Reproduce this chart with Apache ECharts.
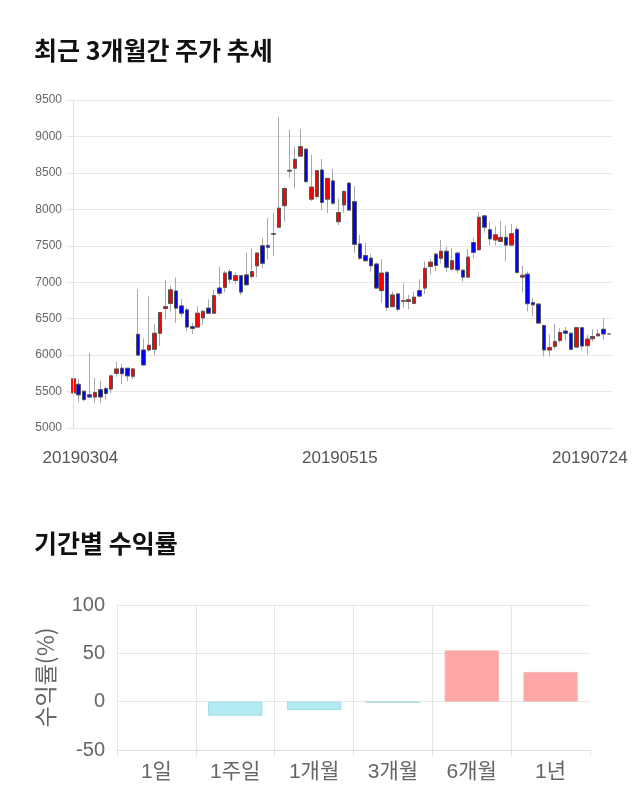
<!DOCTYPE html>
<html>
<head>
<meta charset="utf-8">
<script src="https://cdn.jsdelivr.net/npm/echarts@6/dist/echarts.min.js"></script>
<style>
html,body{margin:0;padding:0;background:#fff;}
#chart{width:640px;height:810px;}
</style>
</head>
<body>
<div id="chart"></div>
<script>
// ---- candlestick data (daily) ----
const dates = [
'20190304','20190305','20190306','20190307','20190308','20190311','20190312','20190313','20190314','20190315',
'20190318','20190319','20190320','20190321','20190322','20190325','20190326','20190327','20190328','20190329',
'20190401','20190402','20190403','20190404','20190405','20190408','20190409','20190410','20190411','20190412',
'20190415','20190416','20190417','20190418','20190419','20190422','20190423','20190424','20190425','20190426',
'20190429','20190430','20190502','20190503','20190507','20190508','20190509','20190510','20190513','20190514',
'20190515','20190516','20190517','20190520','20190521','20190522','20190523','20190524','20190527','20190528',
'20190529','20190530','20190531','20190603','20190604','20190605','20190607','20190610','20190611','20190612',
'20190613','20190614','20190617','20190618','20190619','20190620','20190621','20190624','20190625','20190626',
'20190627','20190628','20190701','20190702','20190703','20190704','20190705','20190708','20190709','20190710',
'20190711','20190712','20190715','20190716','20190717','20190718','20190719','20190722','20190723','20190724'
];
const opens = [
5480,5600,5505,5455,5425,5525,5540,5535,5750,5820,
5820,5710,6285,6070,6070,6080,6300,6640,6710,6880,
6675,6620,6390,6385,6510,6645,6575,6920,6930,7145,
7025,7090,7100,7080,7225,7500,7505,7665,7755,8050,
8535,8565,8730,8825,8140,8175,8540,8140,8390,7830,
8060,8360,8105,7525,7365,7330,7250,6885,7135,6665,
6840,6740,6735,6710,6885,6920,7215,7385,7330,7425,
7180,7400,7165,7070,7545,7445,7910,7720,7580,7560,
7615,7510,7725,7070,7110,6720,6700,6405,6070,6120,
6200,6330,6300,6110,6375,6130,6225,6265,6355,6290
];
const closes = [
5675,5455,5390,5425,5485,5425,5475,5715,5810,5745,
5715,5810,6000,5865,6135,6300,6585,6665,6895,6645,
6575,6385,6365,6575,6600,6575,6815,6850,7125,7040,
7090,6865,6965,7145,7400,7260,7480,7660,8015,8285,
8525,8685,8860,8380,8305,8530,8095,8425,8085,7955,
8245,7990,7520,7330,7295,7225,6920,7125,6655,6825,
6630,6745,6760,6795,6810,7190,7275,7230,7425,7205,
7295,7170,7070,7345,7410,7890,7755,7595,7650,7615,
7510,7665,7135,7095,6705,6690,6440,6070,6105,6185,
6310,6300,6080,6375,6125,6220,6255,6290,6290,6290
];
const lows = [
5475,5350,5365,5410,5340,5340,5390,5480,5705,5600,
5640,5670,5995,5855,6050,5995,6125,6495,6600,6440,
6520,6325,6290,6380,6415,6565,6565,6815,6860,6985,
6980,6825,6950,7040,7070,7190,7315,7360,7750,7830,
8435,8290,8725,8365,8115,8140,7990,7945,8060,7785,
7955,7980,7405,7305,7285,7145,6905,6720,6610,6660,
6600,6645,6630,6700,6795,6840,7110,7155,7260,7145,
7160,7125,7010,7065,7330,7435,7680,7505,7505,7555,
7285,7500,7115,6860,6600,6540,6430,5980,5980,6080,
6170,6200,6075,6105,6070,6005,6185,6255,6210,6285
];
const highs = [
5680,5670,5510,6030,5685,5650,5570,5730,5910,5880,
5820,5820,6905,6230,6805,6430,6590,7030,6950,7065,
6770,6650,6440,6675,6620,6765,6895,7215,7155,7180,
7135,7100,7405,7465,7405,7605,7880,7945,9270,8310,
9090,8860,9100,8835,8745,8540,8690,8430,8550,8150,
8260,8365,8320,7650,7545,7385,7270,7315,7155,6870,
6850,6985,6825,6870,7040,7285,7315,7405,7580,7490,
7465,7420,7180,7455,7615,7960,7920,7825,7765,7840,
7775,7800,7765,7225,7145,6780,6710,6415,6285,6430,
6370,6385,6310,6385,6385,6280,6355,6355,6500,6300
];
const priceTicks = {min: 5000, max: 9500, step: 500};
const shownDates = ['20190304', '20190515', '20190724'];

// ---- period returns ----
const periods = ['1일', '1주일', '1개월', '3개월', '6개월', '1년'];
const returns = [0, -14.5, -8.6, -1.0, 53.1, 30.8];
const returnTicks = {min: -50, max: 100, step: 50};

const candleData = dates.map((d, i) => [opens[i], closes[i], lows[i], highs[i]]);
const bodyData = dates.map((d, i) => [opens[i], closes[i], Math.min(opens[i], closes[i]), Math.max(opens[i], closes[i])]);

const numFont = '"Liberation Sans", Arial, "Noto Sans CJK KR", sans-serif';
const krFont = '"Noto Sans CJK KR", "Liberation Sans", sans-serif';

const chart = echarts.init(document.getElementById('chart'), null, {renderer: 'canvas'});
chart.setOption({
  animation: false,
  backgroundColor: '#fff',
  title: [
    {text: '최근 3개월간 주가 추세', left: 29, top: 33,
     textStyle: {fontFamily: krFont, fontSize: 25, fontWeight: 'bold', color: '#111'}},
    {text: '기간별 수익률', left: 29, top: 526,
     textStyle: {fontFamily: krFont, fontSize: 25, fontWeight: 'bold', color: '#111'}}
  ],
  grid: [
    {left: 66, right: 28, top: 100, bottom: 382},
    {left: 70.6, right: 28.4, top: 100, bottom: 382},
    {left: 117, right: 50, top: 605, bottom: 60}
  ],
  xAxis: [
    {type: 'value', gridIndex: 0, show: false, min: 0, max: 1},
    {type: 'category', gridIndex: 1, data: dates, boundaryGap: true,
     axisLine: {show: false}, axisTick: {show: false}, splitLine: {show: false},
     axisLabel: {
       interval: (idx, val) => shownDates.indexOf(val) >= 0,
       margin: 22, color: '#555', fontFamily: numFont, fontSize: 17,
       formatter: (val) => {
         const k = shownDates.indexOf(val);
         return '{s' + k + '|' + val + '}';
       },
       rich: {
         s0: {padding: [0, 0, 0, 14], fontFamily: numFont, fontSize: 17, color: '#555'},
         s1: {padding: [0, 8, 0, 0], fontFamily: numFont, fontSize: 17, color: '#555'},
         s2: {padding: [0, 38, 0, 0], fontFamily: numFont, fontSize: 17, color: '#555'}
       }
     }},
    {type: 'category', gridIndex: 2, data: periods, boundaryGap: true,
     axisLine: {onZero: false, lineStyle: {color: '#dcdcdc'}},
     axisTick: {show: true, length: 6, lineStyle: {color: '#e2e2e2'}},
     splitLine: {show: true, showMaxLine: false, lineStyle: {color: '#e6e6e6'}},
     axisLabel: {margin: 12, color: '#666', fontFamily: numFont, fontSize: 21}}
  ],
  yAxis: [
    {type: 'value', gridIndex: 0, min: priceTicks.min, max: priceTicks.max, interval: priceTicks.step,
     axisLine: {show: false}, axisTick: {show: false},
     splitLine: {lineStyle: {color: '#e8e8e8'}},
     axisLabel: {margin: 4, color: '#666', fontFamily: numFont, fontSize: 12,
                 formatter: (v) => String(v)}},
    {type: 'value', gridIndex: 1, min: priceTicks.min, max: priceTicks.max, interval: priceTicks.step,
     show: false},
    {type: 'value', gridIndex: 2, min: returnTicks.min, max: returnTicks.max, interval: returnTicks.step,
     name: '수익률(%)', nameLocation: 'middle', nameRotate: 90, nameGap: 60,
     nameTextStyle: {color: '#666', fontFamily: krFont, fontSize: 23},
     axisLine: {show: false}, axisTick: {show: false},
     splitLine: {lineStyle: {color: '#e6e6e6'}},
     axisLabel: {margin: 12, color: '#666', fontFamily: numFont, fontSize: 20,
                 formatter: (v) => String(v)}}
  ],
  series: [
    {type: 'candlestick', xAxisIndex: 1, yAxisIndex: 1, data: candleData, barWidth: 4,
     itemStyle: {color: '#ff0000', color0: '#0000ff', borderColor: '#a8a8a8', borderColor0: '#a8a8a8',
                 borderColorDoji: '#a8a8a8', borderWidth: 1},
     markLine: {silent: true, symbol: ['none', 'none'], label: {show: false},
                lineStyle: {color: '#dddddd', type: 'solid', width: 1},
                data: [{xAxis: dates[0]}]}},
    {type: 'candlestick', xAxisIndex: 1, yAxisIndex: 1, data: bodyData, barWidth: 4,
     itemStyle: {color: '#ff0000', color0: '#0000ff', borderColor: '#555', borderColor0: '#555',
                 borderColorDoji: '#777', borderWidth: 1}},
    {type: 'bar', xAxisIndex: 2, yAxisIndex: 2, barWidth: '69%',
     data: returns.map(v => ({
       value: v,
       itemStyle: v === 0 ? {borderWidth: 0, opacity: 0}
                : v > 0 ? {color: '#ffa6a6', borderColor: '#f2b8b8', borderWidth: 1}
                        : {color: '#b3ebf2', borderColor: '#a3dbe4', borderWidth: 1}
     }))}
  ]
});
</script>
</body>
</html>
